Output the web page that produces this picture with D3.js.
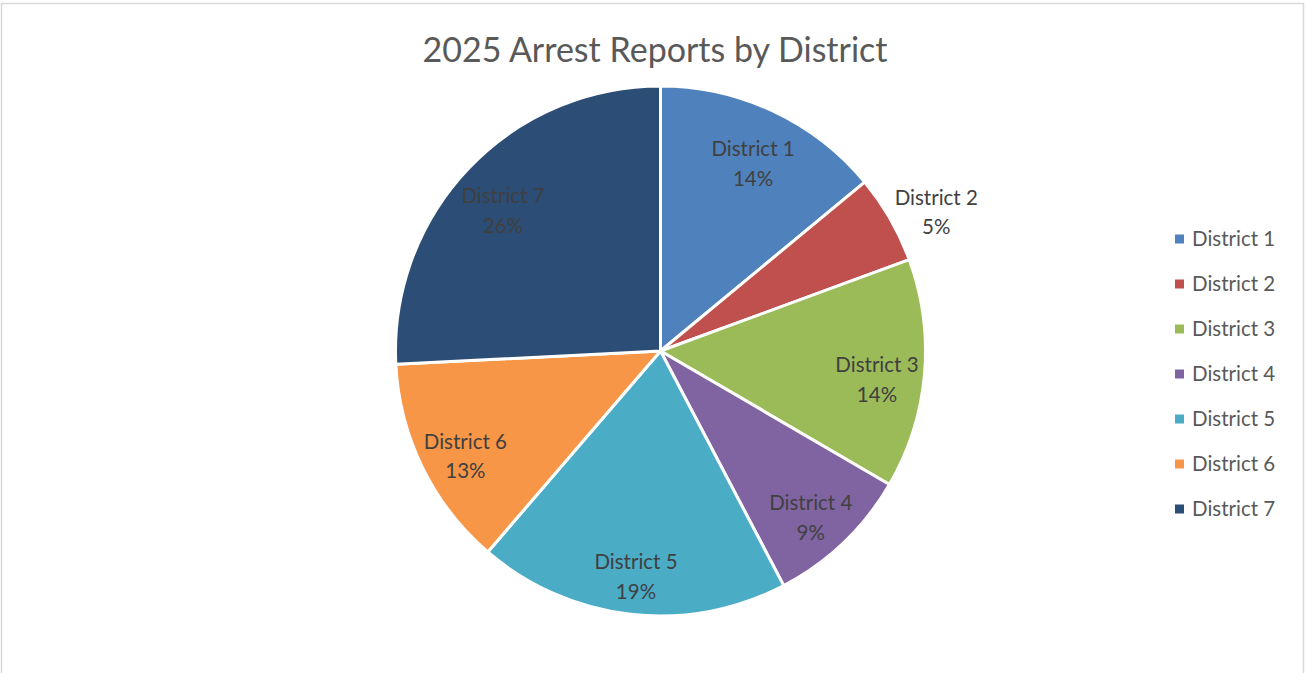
<!DOCTYPE html>
<html>
<head>
<meta charset="utf-8">
<script src="https://cdn.jsdelivr.net/npm/d3@7"></script>
<style>
  html, body { margin: 0; padding: 0; background: #fff; }
  svg text { font-family: Lato, "Open Sans", sans-serif; }
</style>
</head>
<body>
<div id="chart"></div>
<script>
// 数据
var districts = ['District 1', 'District 2', 'District 3', 'District 4', 'District 5', 'District 6', 'District 7'];
var shares = [14.0, 5.4, 14.0, 8.9, 19.0, 12.9, 25.8];
var sliceColor = ['#4f81bd', '#c0504d', '#9bbb59', '#8064a2', '#4bacc6', '#f79646', '#2c4d75'];
var chartTitle = '2025 Arrest Reports by District';

var width = 1306,
    height = 673;

var svg = d3.select('#chart').append('svg')
    .attr('width', width)
    .attr('height', height);

// 外框
svg.append('rect')
    .attr('x', 1.5).attr('y', 3.5)
    .attr('width', width - 4).attr('height', height + 10)
    .attr('fill', 'none')
    .attr('stroke', '#d9d9d9')
    .attr('stroke-width', 1.5);

// 标题
svg.append('text')
    .attr('x', 655).attr('y', 62)
    .attr('text-anchor', 'middle')
    .style('font-size', '34px')
    .style('font-weight', 400)
    .style('fill', '#595959')
    .text(chartTitle);

var cx = 660.5, cy = 351, radius = 265;
var total = d3.sum(shares);

var pie = d3.pie().sort(null).value(function(d) { return d; });
var pieData = pie(shares);
var arc = d3.arc().innerRadius(0).outerRadius(radius);

var main = svg.append('g').attr('transform', 'translate(' + cx + ',' + cy + ')');

main.selectAll('path')
    .data(pieData)
    .enter()
    .append('path')
    .attr('d', arc)
    .attr('fill', function(d, i) { return sliceColor[i]; })
    .attr('stroke', '#fff')
    .attr('stroke-width', 3)
    .attr('stroke-linejoin', 'round');

// 标签：小扇区放外面
function labelPos(d) {
    var share = d.value / total;
    var r = share < 0.07 ? radius * 1.2 : radius * 0.82;
    var a = (d.startAngle + d.endAngle) / 2;
    var p = [Math.sin(a) * r, -Math.cos(a) * r];
    if (share < 0.07) p[1] += 10;
    return p;
}

var labels = main.selectAll('text.lbl')
    .data(pieData)
    .enter()
    .append('text')
    .attr('class', 'lbl')
    .attr('text-anchor', 'middle')
    .attr('transform', function(d) { return 'translate(' + labelPos(d) + ')'; })
    .style('font-size', '20.5px')
    .style('fill', '#404040');

labels.append('tspan')
    .attr('x', 0).attr('dy', '0.1em')
    .text(function(d, i) { return districts[i]; });
labels.append('tspan')
    .attr('x', 0).attr('dy', '1.45em')
    .text(function(d) { return Math.round(d.value / total * 100) + '%'; });

// 图例
var legendY = d3.scalePoint().domain(districts).range([239, 509]);
var legend = svg.append('g').selectAll('g')
    .data(districts)
    .enter()
    .append('g')
    .attr('transform', function(d) { return 'translate(1175,' + legendY(d) + ')'; });

legend.append('rect')
    .attr('x', 0).attr('y', -4.5)
    .attr('width', 9).attr('height', 9)
    .attr('fill', function(d, i) { return sliceColor[i]; });

legend.append('text')
    .attr('x', 17).attr('y', 0)
    .attr('dy', '0.35em')
    .style('font-size', '20.5px')
    .style('fill', '#595959')
    .text(function(d) { return d; });
</script>
</body>
</html>
